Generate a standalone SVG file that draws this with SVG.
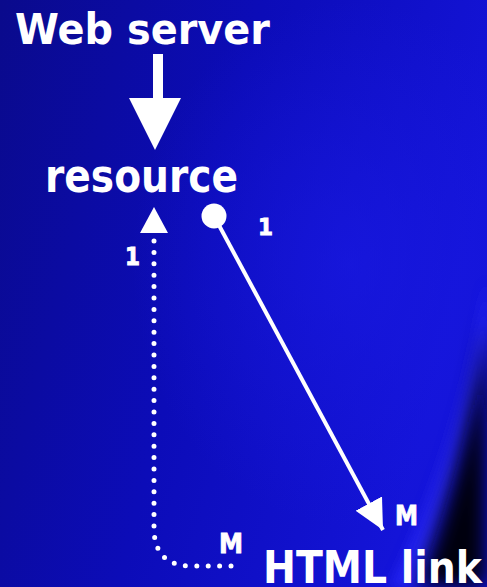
<svg xmlns="http://www.w3.org/2000/svg" width="487" height="587" viewBox="0 0 487 587">
<defs>
<style>
text{font-family:"DejaVu Sans","Liberation Sans",sans-serif;font-weight:bold;fill:#fff}
.lbl{stroke:#fff;stroke-width:0.9}
.conn{fill:none;stroke:#fff}
</style>
<linearGradient id="bg" x1="0" y1="0" x2="1" y2="0.3">
<stop offset="0" stop-color="#0a0a8c"/>
<stop offset="0.5" stop-color="#0c0cb8"/>
<stop offset="1" stop-color="#1414d8"/>
</linearGradient>
<radialGradient id="glow" cx="0.72" cy="0.45" r="0.45">
<stop offset="0" stop-color="#1a1ae6" stop-opacity="0.6"/>
<stop offset="1" stop-color="#1a1ae6" stop-opacity="0"/>
</radialGradient>
<filter id="blur" x="-50%" y="-50%" width="200%" height="200%"><feGaussianBlur stdDeviation="10"/></filter>
<filter id="blur2" x="-50%" y="-50%" width="200%" height="200%"><feGaussianBlur stdDeviation="6"/></filter>
<marker id="ah" viewBox="0 0 10 10" refX="10" refY="5" markerWidth="7.5" markerHeight="7.5" markerUnits="strokeWidth" orient="auto">
<path d="M0,0 L10,5 L0,10 Z" fill="#fff"/>
</marker>
</defs>
<rect width="487" height="587" fill="url(#bg)"/>
<rect width="487" height="587" fill="url(#glow)"/>
<path d="M487,280 Q462,440 390,587 L420,587 Q472,450 487,340 Z" fill="#2a2aff" opacity="0.7" filter="url(#blur2)"/>
<path d="M487,320 Q466,460 418,587 L487,587 Z" fill="#000010" filter="url(#blur)"/>

<g id="web-server"><text x="15" y="44" font-size="42" textLength="255" lengthAdjust="spacingAndGlyphs">Web server</text></g>
<g id="resource"><text x="45" y="192" font-size="47" textLength="193" lengthAdjust="spacingAndGlyphs">resource</text></g>
<g id="html-link"><text x="263" y="583" font-size="44" textLength="219" lengthAdjust="spacingAndGlyphs">HTML link</text></g>

<g id="connectors">
<path d="M153,54 H163 V98 H181 L155,150 L129,98 H153 Z" fill="#fff"/>
<path class="conn" d="M154,241 V528 Q154,566 192,566 H240" stroke-width="5" stroke-linecap="round" stroke-dasharray="0 11.4"/>
<path d="M154,207 L140,233 L168,233 Z" fill="#fff"/>
<circle cx="214" cy="216" r="12.5" fill="#fff"/>
<line class="conn" x1="214" y1="216" x2="383" y2="530" stroke-width="4" marker-end="url(#ah)"/>
</g>

<g id="labels">
<text class="lbl" x="258" y="235" font-size="23" textLength="15" lengthAdjust="spacingAndGlyphs">1</text>
<text class="lbl" x="125" y="265" font-size="24" textLength="15" lengthAdjust="spacingAndGlyphs">1</text>
<text class="lbl" x="395" y="525" font-size="27" textLength="23" lengthAdjust="spacingAndGlyphs">M</text>
<text class="lbl" x="219" y="553" font-size="27" textLength="24" lengthAdjust="spacingAndGlyphs">M</text>
</g>
</svg>
